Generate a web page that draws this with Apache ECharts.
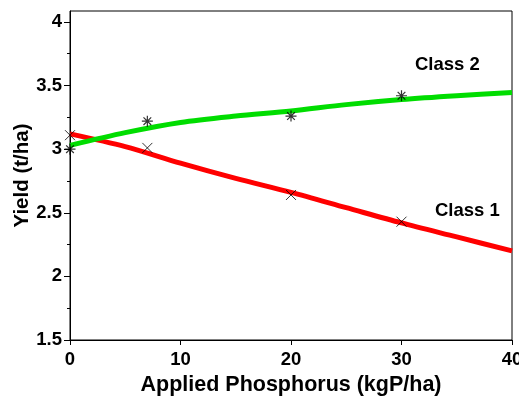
<!DOCTYPE html>
<html>
<head>
<meta charset="utf-8">
<script src="https://cdn.jsdelivr.net/npm/echarts@6/dist/echarts.min.js"></script>
<style>
  html, body { margin: 0; padding: 0; background: #fff; }
  #chart { width: 519px; height: 399px; }
</style>
</head>
<body>
<div id="chart"></div>
<script>
// fitted curves
var fitX = [0, 5, 10, 15, 20, 25, 30, 35, 40];
var class1Fit = [3.12, 3.02, 2.89, 2.77, 2.66, 2.54, 2.42, 2.31, 2.2];
var class2Fit = [3.03, 3.13, 3.21, 3.26, 3.30, 3.35, 3.39, 3.42, 3.445];
// observed points
var obsX = [0, 7, 20, 30];
var class1Obs = [3.11, 3.01, 2.64, 2.43];
var class2Obs = [3.0, 3.22, 3.26, 3.42];
// tick values
var yMajor = [1.5, 2, 2.5, 3, 3.5, 4];
var yMinor = [1.75, 2.25, 2.75, 3.25, 3.75];

function pairs(xs, ys) {
  var out = [];
  for (var i = 0; i < xs.length; i++) out.push([xs[i], ys[i]]);
  return out;
}

var font = 'Liberation Sans, Arial, sans-serif';
var crossPath = 'path://M0,0L10,10M10,0L0,10';
var starPath = 'path://M5,0L5,10M0,5L10,5M1.5,1.5L8.5,8.5M8.5,1.5L1.5,8.5';

var chart = echarts.init(document.getElementById('chart'));
chart.setOption({
  animation: false,
  grid: {
    left: 70, right: 7, top: 11, bottom: 59,
    outerBoundsMode: 'none',
    show: true, borderColor: '#000', borderWidth: 1
  },
  xAxis: {
    type: 'value', min: 0, max: 40, interval: 10,
    name: 'Applied Phosphorus (kgP/ha)',
    nameLocation: 'middle', nameGap: 34,
    nameTextStyle: { fontFamily: font, fontWeight: 'bold', fontSize: 21.5, color: '#000' },
    axisLine: { lineStyle: { color: '#000', width: 1 } },
    axisTick: { length: 5, lineStyle: { color: '#000' } },
    axisLabel: { margin: 10, fontFamily: font, fontWeight: 'bold', fontSize: 18.5, color: '#000' },
    splitLine: { show: false }
  },
  yAxis: [{
    type: 'value', min: 1.5, max: 4.086,
    name: 'Yield (t/ha)',
    nameLocation: 'middle', nameGap: 37, nameMoveOverlap: false,
    nameTextStyle: { fontFamily: font, fontWeight: 'bold', fontSize: 20.5, color: '#000' },
    axisLine: { show: true, lineStyle: { color: '#000', width: 1 } },
    axisTick: { show: true, length: 6, customValues: yMajor, lineStyle: { color: '#000' } },
    axisLabel: { margin: 8, customValues: yMajor, fontFamily: font, fontWeight: 'bold', fontSize: 18.5, color: '#000' },
    splitLine: { show: false }
  }, {
    type: 'value', min: 1.5, max: 4.086, position: 'left',
    axisLine: { show: false },
    axisTick: { show: true, length: 3, customValues: yMinor, lineStyle: { color: '#000' } },
    axisLabel: { show: false },
    splitLine: { show: false }
  }],
  graphic: [
    { type: 'text', left: 415, top: 55, style: { text: 'Class 2', font: 'bold 18.5px ' + font, fill: '#000' } },
    { type: 'text', left: 435, top: 201, style: { text: 'Class 1', font: 'bold 18.5px ' + font, fill: '#000' } }
  ],
  series: [
    {
      type: 'line', data: pairs(fitX, class1Fit), smooth: 0.3, showSymbol: false,
      lineStyle: { color: '#ff0000', width: 5 }, z: 2
    },
    {
      type: 'line', data: pairs(fitX, class2Fit), smooth: 0.3, showSymbol: false,
      lineStyle: { color: '#00dd00', width: 5 }, z: 3
    },
    {
      type: 'scatter', data: pairs(obsX, class1Obs), symbol: crossPath, symbolSize: 10,
      itemStyle: { color: 'none', borderColor: '#000', borderWidth: 1 }, z: 4
    },
    {
      type: 'scatter', data: pairs(obsX, class2Obs), symbol: starPath, symbolSize: 11,
      itemStyle: { color: 'none', borderColor: '#000', borderWidth: 1.2 }, z: 4
    }
  ]
});
</script>
</body>
</html>
